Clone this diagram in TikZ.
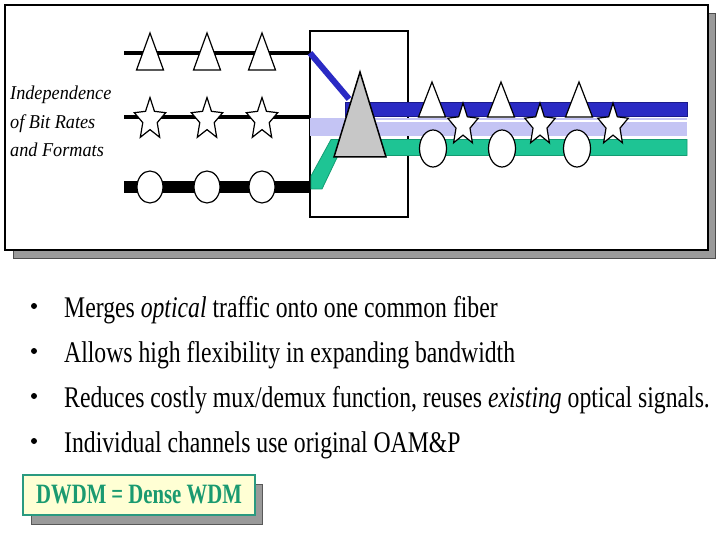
\documentclass[tikz,border=0pt]{standalone}
\usepackage{fontspec}
\setmainfont{Liberation Serif}
\newfontfamily\bodyfont[FakeStretch=0.79]{Liberation Serif}
\newfontfamily\labelfont[FakeStretch=0.93]{Liberation Serif}
\newfontfamily\boxfont[FakeStretch=0.74]{Liberation Serif}
\definecolor{bandblue}{HTML}{2A2AC4}
\definecolor{bandblueedge}{HTML}{1A1A8A}
\definecolor{lavender}{HTML}{C4C4F4}
\definecolor{bandgreen}{HTML}{1EC494}
\definecolor{bandgreenedge}{HTML}{139C72}
\definecolor{dwdmgreen}{HTML}{1A9A70}
\definecolor{dwdmfill}{HTML}{FFFFD4}
\definecolor{dwdmedge}{HTML}{2A9A80}
\definecolor{shadowgray}{HTML}{9A9A9A}
\begin{document}
\begin{tikzpicture}[x=1pt,y=-1pt,
  symbolshape/.style={draw=black,fill=white,line width=1.2pt,line join=miter},
  tripic/.pic={\draw[symbolshape] (0,0) -- (13.5,37) -- (-13.5,37) -- cycle;},
  starpic/.pic={\draw[symbolshape] (-90:1) -- (-54:0.46) -- (-18:1) -- (18:0.46) -- (54:1) -- (90:0.46) -- (126:1) -- (162:0.46) -- (198:1) -- (234:0.46) -- cycle;},
  bulletdot/.style={circle,fill=black,inner sep=0pt,minimum size=6pt},
  bodytext/.style={anchor=base west,inner sep=0pt,font=\bodyfont\fontsize{30}{36}\selectfont},
  labeltext/.style={anchor=base west,inner sep=0pt,font=\labelfont\itshape\fontsize{19.6}{24}\selectfont}
]
\useasboundingbox (0,0) rectangle (720,540);
% outer frame with shadow
\filldraw[fill=shadowgray,draw=black!70] (13,13) rectangle (715,258);
\filldraw[fill=white,draw=black,line width=1.5pt] (5,5) rectangle (708,250);
% label
\node[labeltext] (l1) at (10,100) {Independence};
\node[labeltext] (l2) at (10,128.5) {of Bit Rates};
\node[labeltext] (l3) at (10,157) {and Formats};
% mux box
\draw[line width=1.5pt] (310,31) rectangle (408,217);
% input fibres
\draw[line width=4.5pt] (124,53) -- (310,53);
\draw[line width=3.5pt] (124,117) -- (310,117);
\draw[line width=12pt] (124,187) -- (310,187);
% coloured channels
\draw[bandblue,line width=6pt] (310,53) -- (349,99);
\filldraw[fill=bandblue,draw=bandblueedge,line width=1pt] (345,102.5) rectangle (687,117);
\fill[lavender] (310,118) rectangle (687,136.5);
\draw[white,line width=1.3pt] (345,121) -- (687,121);
\filldraw[fill=bandgreen,draw=bandgreenedge,line width=0.8pt]
  (311,189) -- (311,176) -- (331,139.5) -- (687,139.5) -- (687,155.5) -- (338,155.5) -- (322,189) -- cycle;
% multiplexer triangle
\filldraw[fill=black!22,draw=black,line width=1.5pt,line join=miter] (360,72) -- (386,157) -- (334,157) -- cycle;
% input symbols
\foreach \px in {150,207,262}{
  \pic at (\px,33) {tripic};
  \pic[xscale=16.5,yscale=22] at (\px,119.5) {starpic};
  \draw[symbolshape] (\px,187) ellipse [x radius=13,y radius=16];
}
% output symbols
\foreach \px in {432,501,579}{
  \pic[yscale=0.946] at (\px,82) {tripic};
}
\foreach \px in {463,540,613}{
  \pic[xscale=16,yscale=22] at (\px,125) {starpic};
}
\foreach \px in {433,502,577}{
  \draw[symbolshape] (\px,148.5) ellipse [x radius=13.5,y radius=18.5];
}
% bullet list
\foreach \yy/\nm in {306/b1,351/b2,396/b3,441/b4}{
  \node[bulletdot] (\nm) at (34,\yy) {};
}
\node[bodytext] (t1) at (64,317) {Merges \textit{optical} traffic onto one common fiber};
\node[bodytext] (t2) at (64,362) {Allows high flexibility in expanding bandwidth};
\node[bodytext] (t3) at (64,407) {Reduces costly mux/demux function, reuses \textit{existing} optical signals.};
\node[bodytext] (t4) at (64,452) {Individual channels use original OAM\&P};
% DWDM box
\filldraw[fill=shadowgray,draw=black!65] (31,484) rectangle (262,524);
\node[draw=dwdmedge,fill=dwdmfill,line width=1.5pt,minimum width=232pt,minimum height=40pt,inner sep=0pt,
      text=dwdmgreen,font=\boxfont\bfseries\fontsize{28}{32}\selectfont] (dwdm) at (139,495) {DWDM = Dense WDM};
\end{tikzpicture}
\end{document}
